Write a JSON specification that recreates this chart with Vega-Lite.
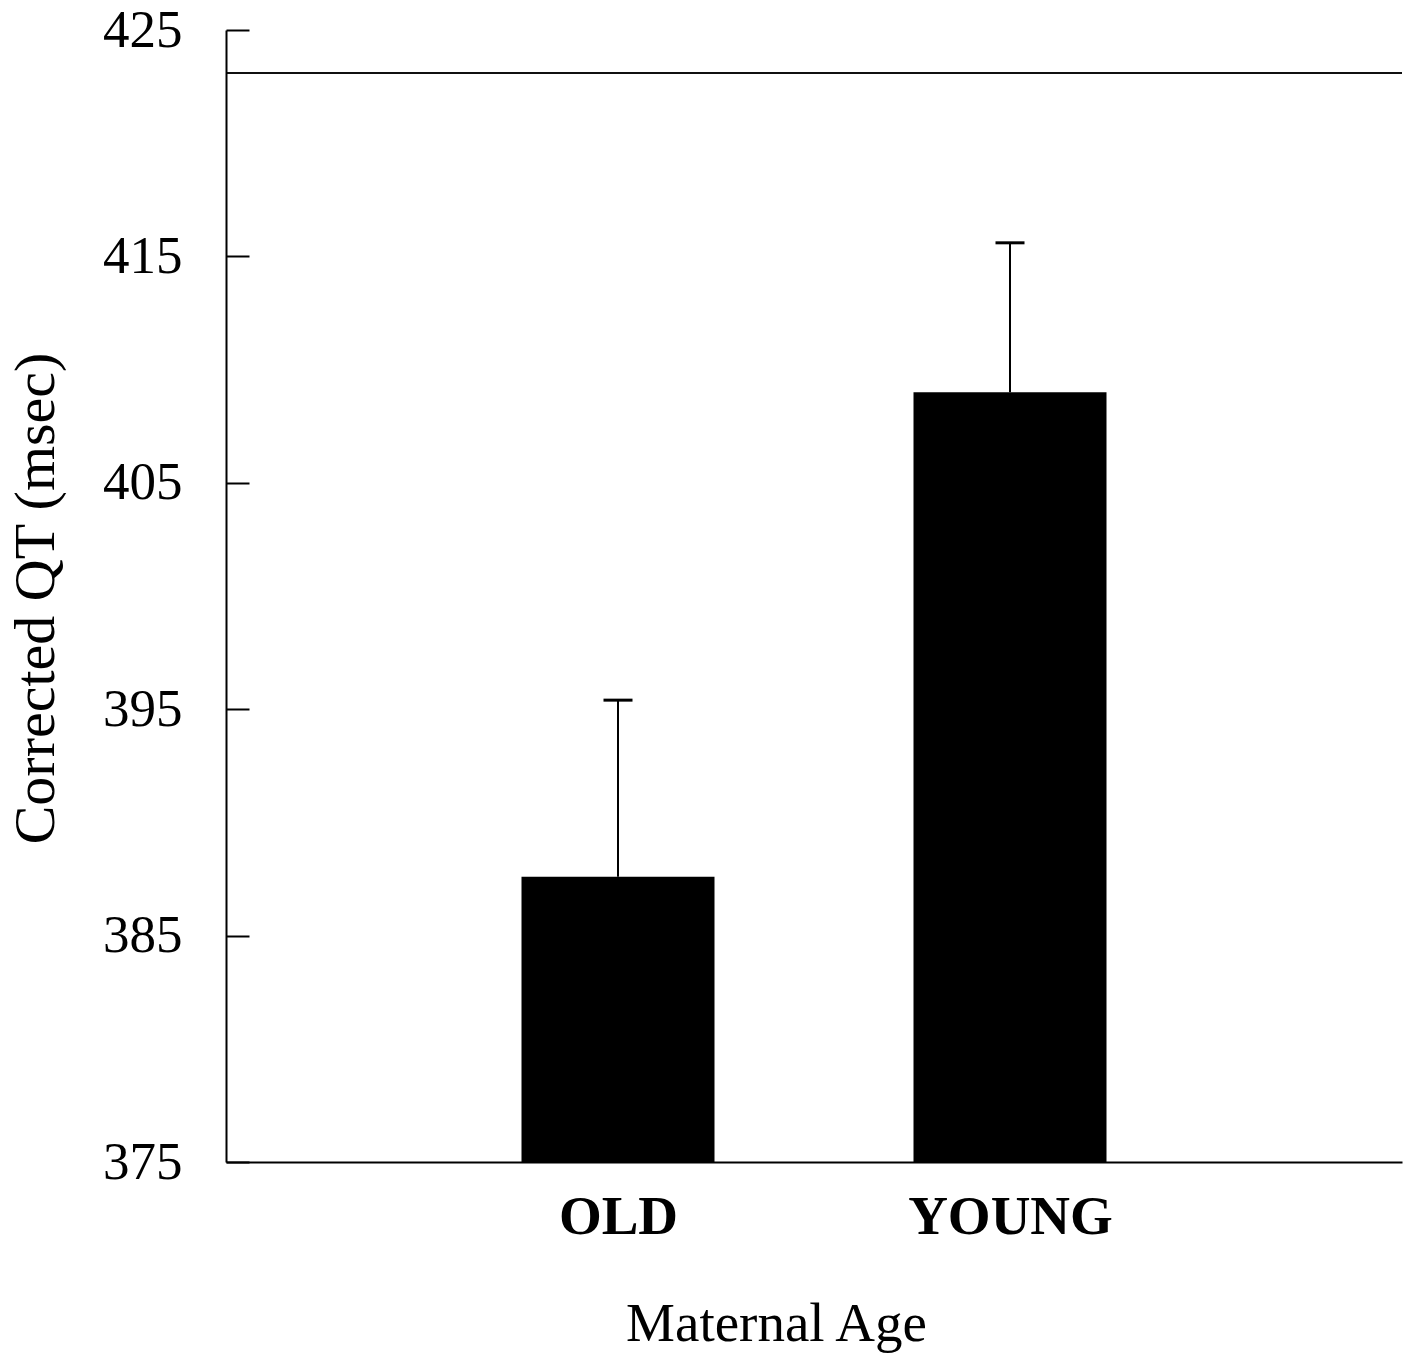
{
  "$schema": "https://vega.github.io/schema/vega-lite/v6.json",
  "width": 1176,
  "height": 1132,
  "autosize": {"type": "none"},
  "padding": {"left": 226, "top": 30, "right": 6, "bottom": 191},
  "background": "white",
  "config": {
    "view": {"stroke": null},
    "font": "Liberation Serif",
    "axis": {"domainColor": "black", "tickColor": "black", "labelColor": "black", "titleColor": "black", "grid": false}
  },
  "data": {
    "values": [
      {"age": "OLD", "qt": 387.6, "upper": 395.4},
      {"age": "YOUNG", "qt": 409.0, "upper": 415.6}
    ]
  },
  "encoding": {
    "x": {
      "field": "age",
      "type": "nominal",
      "sort": null,
      "scale": {"type": "point", "padding": 1},
      "axis": {
        "ticks": false,
        "domainWidth": 2,
        "labelFontSize": 55,
        "labelFontWeight": "bold",
        "labelAngle": 0,
        "labelLimit": 0,
        "labelBaseline": "alphabetic",
        "labelPadding": 71,
        "title": "Maternal Age",
        "titleFontSize": 55,
        "titleFontWeight": "normal",
        "titleX": 550,
        "titleY": 178,
        "titleAlign": "center",
        "titleBaseline": "alphabetic"
      }
    }
  },
  "layer": [
    {
      "mark": {"type": "rule", "color": "black", "strokeWidth": 1.5},
      "encoding": {"x": null, "y": {"datum": 423.1, "type": "quantitative"}}
    },
    {
      "mark": {"type": "bar", "size": 193, "color": "black"},
      "encoding": {
        "y": {
          "field": "qt",
          "type": "quantitative",
          "scale": {"domain": [375, 425], "nice": false, "zero": false},
          "axis": {
            "values": [375, 385, 395, 405, 415, 425],
            "tickSize": -23,
            "tickWidth": 2,
            "domainWidth": 2,
            "labelFontSize": 53,
            "labelPadding": 67,
            "title": "Corrected QT (msec)",
            "titleFontSize": 58,
            "titleFontWeight": "normal",
            "titleAngle": 270,
            "titleX": -190,
            "titleY": 568,
            "titleAlign": "center",
            "titleBaseline": "middle"
          }
        },
        "y2": {"datum": 375}
      }
    },
    {
      "mark": {"type": "rule", "color": "black", "strokeWidth": 2},
      "encoding": {
        "y": {"field": "qt", "type": "quantitative"},
        "y2": {"field": "upper"}
      }
    },
    {
      "mark": {"type": "tick", "color": "black", "opacity": 1, "size": 29, "thickness": 3},
      "encoding": {
        "y": {"field": "upper", "type": "quantitative"}
      }
    }
  ]
}
